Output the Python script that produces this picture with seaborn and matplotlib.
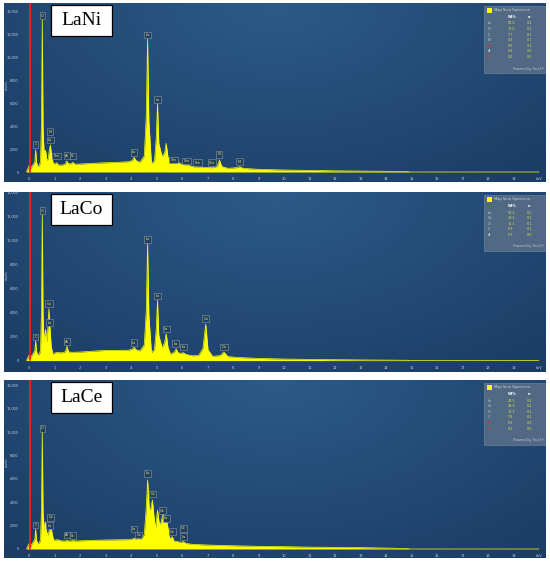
import numpy as np
import matplotlib
matplotlib.use("Agg")
import matplotlib.pyplot as plt
from matplotlib.patches import Rectangle
import seaborn as sns

sns.set_theme(style="white")
plt.rcParams["font.family"] = ["DejaVu Sans"]

# === spectra (energy in keV, counts) ===
lani_kev = [-0.10, 0.00, 0.06, 0.12, 0.18, 0.23, 0.26, 0.29, 0.34, 0.40,
            0.45, 0.49, 0.52, 0.55, 0.59, 0.65, 0.70, 0.75, 0.80, 0.84,
            0.88, 0.95, 1.02, 1.08, 1.15, 1.30, 1.42, 1.48, 1.55, 1.65,
            1.72, 1.80, 2.0, 2.5, 3.0, 3.5, 3.9, 4.05, 4.12, 4.20,
            4.35, 4.52, 4.60, 4.65, 4.70, 4.80, 4.92, 4.99, 5.04, 5.09,
            5.22, 5.32, 5.38, 5.45, 5.55, 5.66, 5.72, 5.80, 5.90, 6.05,
            6.20, 6.40, 6.80, 7.20, 7.38, 7.47, 7.56, 7.80, 8.15, 8.26,
            8.40, 9.0, 10.0, 11.0, 12.0, 13.0, 14.0, 14.85, 14.95, 20.0]
lani_counts = [0, 550, 300, 500, 700, 900, 1950, 900, 520, 550,
               900, 4500, 13400, 4000, 1700, 1900, 1050, 1100, 2000, 2360,
               1500, 760, 700, 820, 620, 600, 700, 960, 720, 720,
               850, 680, 700, 760, 810, 850, 900, 1000, 1290, 1000,
               850, 1400, 5000, 11650, 4500, 760, 950, 3000, 6000, 2500,
               1340, 1700, 2510, 1300, 760, 1050, 900, 1100, 750, 650,
               620, 480, 400, 380, 500, 1050, 480, 320, 380, 460,
               320, 235, 175, 140, 100, 80, 60, 40, 0, 0]

laco_kev = [-0.10, 0.00, 0.06, 0.12, 0.18, 0.23, 0.26, 0.29, 0.34, 0.40,
            0.45, 0.49, 0.52, 0.55, 0.59, 0.65, 0.70, 0.75, 0.78, 0.82,
            0.87, 0.93, 1.00, 1.10, 1.20, 1.35, 1.43, 1.49, 1.55, 1.70,
            2.0, 2.5, 3.0, 3.5, 3.9, 4.05, 4.12, 4.20, 4.35, 4.52,
            4.60, 4.65, 4.70, 4.80, 4.92, 4.99, 5.04, 5.09, 5.22, 5.32,
            5.38, 5.45, 5.55, 5.70, 5.77, 5.85, 5.95, 6.05, 6.15, 6.40,
            6.65, 6.82, 6.93, 7.02, 7.20, 7.50, 7.64, 7.80, 8.20, 9.0,
            10.0, 11.0, 12.0, 13.0, 14.0, 14.85, 14.95, 20.0]
laco_counts = [0, 450, 250, 450, 650, 850, 1660, 800, 480, 500,
               850, 4200, 12300, 3800, 1600, 2600, 1500, 3000, 4300, 2800,
               1200, 530, 620, 680, 650, 660, 750, 1185, 720, 690,
               710, 780, 845, 850, 860, 950, 1105, 900, 800, 1300,
               4200, 9740, 3800, 660, 900, 2600, 5000, 2100, 1050, 1500,
               2235, 1100, 530, 700, 970, 650, 600, 660, 520, 400,
               420, 1000, 3025, 900, 350, 420, 710, 330, 260, 180,
               130, 100, 75, 55, 40, 25, 0, 0]

lace_kev = [-0.10, 0.00, 0.06, 0.12, 0.18, 0.23, 0.26, 0.29, 0.34, 0.40,
            0.45, 0.49, 0.52, 0.55, 0.59, 0.63, 0.68, 0.73, 0.80, 0.85,
            0.90, 0.96, 1.05, 1.12, 1.25, 1.40, 1.49, 1.58, 1.66, 1.73,
            1.82, 2.0, 2.5, 3.0, 3.5, 3.9, 4.05, 4.12, 4.20, 4.28,
            4.36, 4.52, 4.60, 4.65, 4.72, 4.78, 4.84, 4.90, 4.96, 5.04,
            5.10, 5.15, 5.20, 5.26, 5.31, 5.38, 5.45, 5.52, 5.62, 5.70,
            5.80, 5.95, 6.05, 6.15, 6.40, 7.0, 8.0, 9.0, 10.0, 11.0,
            12.0, 13.0, 14.0, 14.85, 14.95, 20.0]
lace_counts = [0, 450, 250, 450, 650, 850, 1710, 800, 480, 500,
               800, 3500, 10030, 3200, 1500, 2340, 1600, 1200, 1600, 2050,
               1400, 770, 760, 800, 700, 680, 720, 680, 690, 720,
               680, 700, 740, 770, 790, 800, 850, 910, 850, 900,
               820, 1200, 3600, 5900, 3330, 3500, 4190, 2800, 1770, 3330,
               2300, 2050, 2500, 3050, 2400, 2620, 1800, 900, 1050, 630,
               650, 560, 630, 480, 400, 340, 280, 230, 200, 160,
               140, 120, 80, 40, 0, 0]

# === peak labels (element, keV, counts where the tag sits) ===
lani_tags = [("C", 0.26, 2420), ("O", 0.52, 13680), ("Ni", 0.83, 3530), ("La", 0.83, 2800),
             ("Sm", 1.08, 1400), ("Al", 1.49, 1430), ("Si", 1.72, 1400), ("La", 4.12, 1720),
             ("La", 4.65, 11990), ("La", 5.05, 6330), ("Sm", 5.66, 1050), ("Sm", 6.18, 960),
             ("Sm", 6.60, 815), ("Sm", 7.18, 815), ("Ni", 7.46, 1550), ("Ni", 8.25, 900)]
laco_tags = [("C", 0.26, 1975), ("O", 0.52, 12450), ("Co", 0.78, 4740), ("La", 0.80, 3160),
             ("Al", 1.49, 1580), ("La", 4.12, 1500), ("La", 4.65, 10060), ("La", 5.05, 5350),
             ("La", 5.38, 2630), ("La", 5.76, 1400), ("La", 6.05, 1130), ("Co", 6.93, 3475),
             ("Co", 7.65, 1130)]
lace_tags = [("C", 0.26, 2050), ("O", 0.52, 10310), ("La", 0.80, 1990), ("Ce", 0.85, 2710),
             ("Al", 1.49, 1200), ("Si", 1.72, 1140), ("La", 4.12, 1710), ("Ce", 4.30, 1200),
             ("La", 4.65, 6470), ("Ce", 4.85, 4700), ("Ce", 5.24, 3280), ("La", 5.38, 2620),
             ("Ce", 5.62, 1480), ("Ce", 6.05, 1770), ("La", 6.05, 1050)]

# === quantification tables ===
lani_elements = ["La", "O", "C", "Ni", "Sm", "Al", "Si"]
lani_wt = ["67.5", "17.5", "7.7", "5.9", "0.9", "0.4", "0.2"]
lani_sigma = ["0.2", "0.1", "0.1", "0.1", "0.1", "0.0", "0.0"]
lani_red = ["Sm", "Si"]

laco_elements = ["La", "Co", "O", "C", "Al"]
laco_wt = ["57.2", "19.1", "16.1", "6.9", "0.7"]
laco_sigma = ["0.2", "0.1", "0.1", "0.1", "0.0"]
laco_red = []

lace_elements = ["La", "Ce", "O", "C", "Al", "Si"]
lace_wt = ["44.5", "29.9", "17.3", "7.8", "0.3", "0.2"]
lace_sigma = ["0.2", "0.2", "0.1", "0.2", "0.0", "0.0"]
lace_red = ["Al", "Si"]

x_ticks = list(range(21))
x_tick_labels = [str(v) for v in range(20)] + ["keV"]
y_ticks = [0, 2000, 4000, 6000, 8000, 10000, 12000, 14000]
y_tick_labels = ["0", "2000", "4000", "6000", "8000", "10,000", "12,000", "14,000"]

# === layout in pixels ===
W, H = 550, 564
X_LEFT, X_RIGHT = 4, 546
X0_PX, PX_PER_KEV = 29, 25.5

panels = [
    dict(name="LaNi", kev=lani_kev, counts=lani_counts, tags=lani_tags,
         el=lani_elements, wt=lani_wt, sd=lani_sigma, red=lani_red,
         top=3, bottom=182, y0=172, scale=0.01143),
    dict(name="LaCo", kev=laco_kev, counts=laco_counts, tags=laco_tags,
         el=laco_elements, wt=laco_wt, sd=laco_sigma, red=laco_red,
         top=192, bottom=372, y0=360, scale=0.01266),
    dict(name="LaCe", kev=lace_kev, counts=lace_counts, tags=lace_tags,
         el=lace_elements, wt=lace_wt, sd=lace_sigma, red=lace_red,
         top=380, bottom=558, y0=549, scale=0.0117),
]

fig = plt.figure(figsize=(W / 100, H / 100), dpi=100, facecolor="white")

# background gradient of the instrument screen
gy, gx = np.mgrid[0:1:150j, 0:1:300j]
r = np.clip(np.sqrt(((gx - 0.5) / 0.75) ** 2 + (gy / 1.3) ** 2), 0, 1)[..., None]
light = np.array([0x2c, 0x5b, 0x89]) / 255
dark = np.array([0x1b, 0x3c, 0x65]) / 255
grad = light * (1 - r) + dark * r

tick_col = "#c9d3de"

for p in panels:
    top, bottom = p["top"], p["bottom"]
    ph = bottom - top
    pw = X_RIGHT - X_LEFT
    ax = fig.add_axes([X_LEFT / W, (H - bottom) / H, pw / W, ph / H])

    def to_ax(px, py):
        return ((px - X_LEFT) / pw, (bottom - py) / ph)

    ax.imshow(grad, extent=(0, 1, 0, 1), transform=ax.transAxes, aspect="auto", zorder=0)

    ylo = -(bottom - p["y0"]) / p["scale"]
    yhi = (p["y0"] - top) / p["scale"]
    xlo = (X_LEFT - X0_PX) / PX_PER_KEV
    xhi = (X_RIGHT - X0_PX) / PX_PER_KEV

    # spectrum
    ax.fill_between(p["kev"], p["counts"], 0, color="#ffff00", lw=0, zorder=2)
    sns.lineplot(x=p["kev"], y=p["counts"], ax=ax, color="#ffff00", lw=0.5,
                 sort=False, estimator=None, zorder=3)

    # red energy marker
    ax.axvline(0.05, ymin=(0 - ylo) / (yhi - ylo), ymax=1, color="#ff1a1a", lw=1.3, zorder=4)

    ax.set_xlim(xlo, xhi)
    ax.set_ylim(ylo, yhi)
    ax.set_aspect("auto")

    # axes styling
    for s in ["top", "right"]:
        ax.spines[s].set_visible(False)
    ax.spines["left"].set_position(("data", -0.22))
    ax.spines["bottom"].set_position(("data", 0))
    ax.spines["left"].set_color((1, 1, 1, 0))
    ax.spines["bottom"].set_color((1, 1, 1, 0))
    ax.set_xticks(x_ticks, labels=x_tick_labels)
    ax.set_xticks(np.arange(0, 20.01, 0.2), minor=True)
    ax.set_yticks(y_ticks, labels=y_tick_labels)
    ax.set_yticks(np.arange(0, 14001, 500), minor=True)
    ax.tick_params(which="major", colors=tick_col, labelsize=2.6, length=2.4,
                   width=0.5, direction="out", pad=1.2)
    ax.tick_params(axis="y", labelsize=2.4)
    ax.tick_params(which="minor", color=tick_col, length=1.2, width=0.5, direction="out")
    ax.set_xlabel("")
    ax.set_ylabel("")
    ax.text(*to_ax(6.5, top + 0.46 * ph), "counts", rotation=90, ha="center", va="center",
            fontsize=2.2, color="#b8c4d0", transform=ax.transAxes)

    # peak tags
    for el, e, c in p["tags"]:
        ax.text(e, c, el, ha="center", va="center", fontsize=2.6, color="#e8e860", zorder=5,
                bbox=dict(boxstyle="square,pad=0.35", fc="#23405f", ec="#8a98aa", lw=0.4))

    # sample name box
    bx0, by0 = to_ax(51, top + 33)
    ax.add_patch(Rectangle((bx0, by0), 61 / pw, 31 / ph, transform=ax.transAxes,
                           fc="white", ec="black", lw=0.9, zorder=6))
    ax.text(*to_ax(81.5, top + 17.5), p["name"], ha="center", va="center",
            fontsize=14, family="Liberation Serif", color="black", transform=ax.transAxes, zorder=7)

    # quantification table
    lx0, ly0 = 484, top + 3
    n = len(p["el"])
    last = 17.5 + (n - 1) * 5.6
    box_h = last + 16
    ax.add_patch(Rectangle(to_ax(lx0, ly0 + box_h), 62 / pw, box_h / ph, transform=ax.transAxes,
                           fc="#566d86", ec="#7d8fa2", lw=0.4, alpha=0.92, zorder=6))
    ax.add_patch(Rectangle(to_ax(487, ly0 + 6.5), 4.5 / pw, 4.5 / ph, transform=ax.transAxes,
                           fc="#ffff00", ec="none", zorder=7))
    ax.text(*to_ax(494, ly0 + 4.3), "Map Sum Spectrum", ha="left", va="center",
            fontsize=2.6, color="#d0d6dc", transform=ax.transAxes, zorder=7)
    ax.text(*to_ax(lx0 + 24, ly0 + 11), "Wt%", ha="left", va="center", fontsize=2.4,
            color="white", weight="bold", transform=ax.transAxes, zorder=7)
    ax.text(*to_ax(lx0 + 43.5, ly0 + 11), "σ", ha="left", va="center", fontsize=2.4,
            color="white", weight="bold", transform=ax.transAxes, zorder=7)
    for i, (el, wt, sd) in enumerate(zip(p["el"], p["wt"], p["sd"])):
        yy = ly0 + 17.5 + 5.6 * i
        ax.text(*to_ax(lx0 + 3.5, yy), el, ha="left", va="center", fontsize=2.4,
                color="#e03030" if el in p["red"] else "#c8d0d8", transform=ax.transAxes, zorder=7)
        ax.text(*to_ax(lx0 + 23.5, yy), wt, ha="left", va="center", fontsize=2.4,
                color="#dcdc50", transform=ax.transAxes, zorder=7)
        ax.text(*to_ax(lx0 + 43, yy), sd, ha="left", va="center", fontsize=2.4,
                color="#dcdc50", transform=ax.transAxes, zorder=7)
    ax.text(*to_ax(lx0 + 60, ly0 + last + 11.5), "Powered by Tru-Q®", ha="right", va="center",
            fontsize=2.3, color="#c0c8d0", transform=ax.transAxes, zorder=7)

fig.savefig("out.png", dpi=100, facecolor="white")
